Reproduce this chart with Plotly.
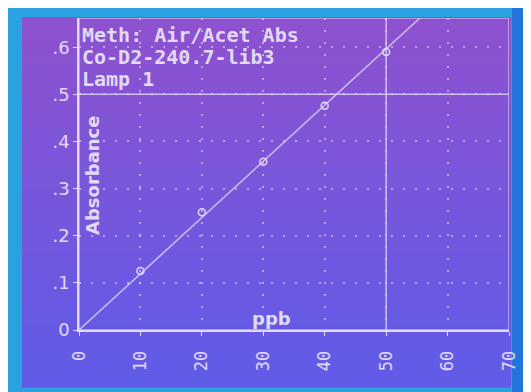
import plotly.graph_objects as go

# ---- data ----
conc_ppb = [10, 20, 30, 40, 50]
absorbance = [0.125, 0.25, 0.357, 0.476, 0.59]
fit_x = [0, 56]
fit_y = [0, 0.668]
x_ticks = [0, 10, 20, 30, 40, 50, 60, 70]
x_tick_text = ["0", "10", "20", "30", "40", "50", "60", "70"]
y_ticks = [0, 0.1, 0.2, 0.3, 0.4, 0.5, 0.6]
y_tick_text = ["0", ".1", ".2", ".3", ".4", ".5", ".6"]
header_lines = ["Meth: Air/Acet Abs", "Co-D2-240.7-lib3", "Lamp 1"]
cursor_x = 50
cursor_y = 0.5

OFF = 8  # browser body margin
PAGE_W, PAGE_H = 531, 392
W, H = PAGE_W - OFF, PAGE_H - OFF
# plot area in page pixels
PL, PR, PT, PB = 79, 509, 18, 330
L, R, T, B = PL - OFF, PAGE_W - PR, PT - OFF, PAGE_H - PB
PW, PH = PR - PL, PB - PT

def px(x):
    return (x - PL) / PW

def py(y):
    return (PB - y) / PH

INK = "#e2daf6"
MONO = "DejaVu Sans Mono"

shapes = []
# photo frame borders
shapes.append(dict(type="rect", xref="paper", yref="paper", x0=px(7), x1=px(535), y0=py(396), y1=py(7),
                   fillcolor="#2aa2e2", line_width=0, layer="below"))
shapes.append(dict(type="rect", xref="paper", yref="paper", x0=px(512), x1=px(535), y0=py(396), y1=py(7),
                   fillcolor="#2276da", line_width=0, layer="below"))
# screen gradient bands
n = 30
top_c = (142, 82, 208)
bot_c = (96, 92, 232)
y_top, y_bot = 17, 387
for i in range(n):
    t = i / (n - 1)
    c = tuple(int(top_c[k] + (bot_c[k] - top_c[k]) * t) for k in range(3))
    ya = y_top + (y_bot - y_top) * i / n
    yb = y_top + (y_bot - y_top) * (i + 1) / n + 0.8
    shapes.append(dict(type="rect", xref="paper", yref="paper", x0=px(22), x1=px(511),
                       y0=py(yb), y1=py(ya), fillcolor="rgb(%d,%d,%d)" % c, line_width=0, layer="below"))
# plot frame
shapes.append(dict(type="rect", xref="x", yref="y", x0=0, x1=70, y0=0, y1=0.662,
                   line=dict(color="rgba(226,218,246,0.7)", width=1.5), layer="above"))
# cursor lines
shapes.append(dict(type="line", xref="x", yref="y", x0=cursor_x, x1=cursor_x, y0=0, y1=0.662,
                   line=dict(color="rgba(226,218,246,0.8)", width=1.5)))
shapes.append(dict(type="line", xref="x", yref="y", x0=0, x1=70, y0=cursor_y, y1=cursor_y,
                   line=dict(color="rgba(226,218,246,0.8)", width=1.5)))

fig = go.Figure()
fig.add_trace(go.Scatter(x=fit_x, y=fit_y, mode="lines",
                         line=dict(color="rgba(226,218,246,0.8)", width=1.5),
                         hoverinfo="skip", showlegend=False))
fig.add_trace(go.Scatter(x=conc_ppb, y=absorbance, mode="markers",
                         marker=dict(symbol="circle-open", size=7, color=INK, line=dict(width=1.5)),
                         showlegend=False))

annotations = []
for i, line in enumerate(header_lines):
    annotations.append(dict(text="<b>%s</b>" % line, xref="paper", yref="paper", x=px(80), y=py(35 + i * 22),
                            xanchor="left", yanchor="middle", showarrow=False,
                            font=dict(family=MONO, size=20, color=INK)))
annotations.append(dict(text="<b>Absorbance</b>", xref="paper", yref="paper", x=px(92), y=py(175),
                        textangle=-90, xanchor="center", yanchor="middle", showarrow=False,
                        font=dict(family="DejaVu Sans", size=18, color=INK)))
annotations.append(dict(text="<b>ppb</b>", xref="paper", yref="paper", x=px(271), y=py(318),
                        xanchor="center", yanchor="middle", showarrow=False,
                        font=dict(family="DejaVu Sans", size=18, color=INK)))

fig.update_layout(
    width=W, height=H,
    margin=dict(l=L, r=R, t=T, b=B, autoexpand=False),
    paper_bgcolor="white",
    plot_bgcolor="rgba(0,0,0,0)",
    shapes=shapes,
    annotations=annotations,
    xaxis=dict(range=[0, 70], tickvals=x_ticks, ticktext=x_tick_text, tickangle=-90,
               showgrid=True, gridcolor="rgba(226,218,246,0.6)", griddash="2px,10px", gridwidth=1.5,
               zeroline=False, showline=True, linecolor=INK, linewidth=2,
               ticks="outside", ticklen=4, tickcolor=INK, ticklabelstandoff=8,
               tickprefix="<b>", ticksuffix="</b>",
               tickfont=dict(family=MONO, size=17, color=INK), fixedrange=True),
    yaxis=dict(range=[0, 0.662], tickvals=y_ticks, ticktext=y_tick_text,
               showgrid=True, gridcolor="rgba(226,218,246,0.6)", griddash="2px,10px", gridwidth=1.5,
               zeroline=False, showline=True, linecolor=INK, linewidth=1.5,
               ticks="outside", ticklen=4, tickcolor=INK,
               tickfont=dict(family="DejaVu Sans", size=18, color=INK), fixedrange=True),
)

fig.write_html("out.html")
